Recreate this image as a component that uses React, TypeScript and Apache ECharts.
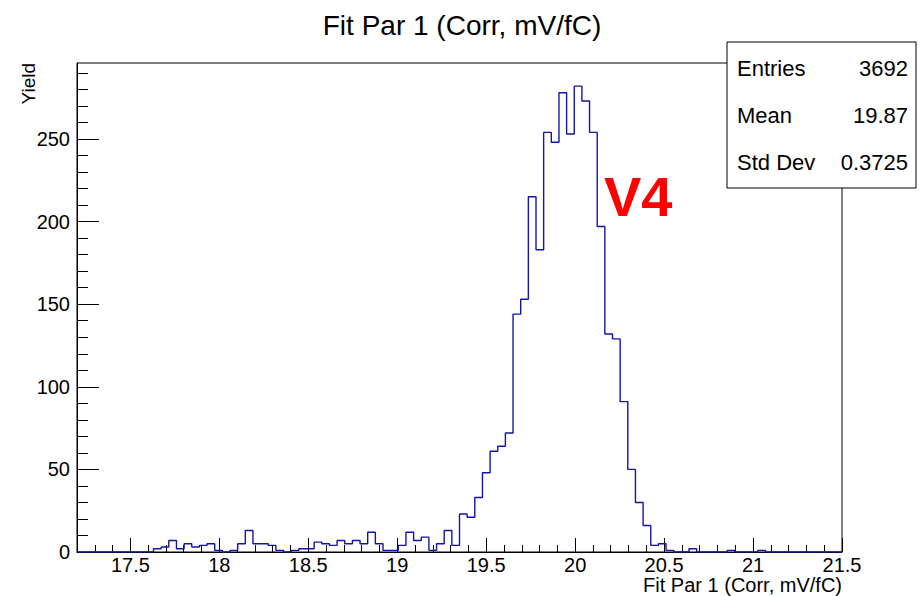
import React, { useEffect, useRef } from 'react';
import * as echarts from 'echarts';

const FONT = '"Liberation Sans", Arial, Helvetica, sans-serif';

// Histogram definition (100 bins from 17.2 to 21.5)
const xMin = 17.2;
const xMax = 21.5;
const binCounts = [
  0, 0, 0, 0, 0, 0, 0, 0, 0, 0,
  2, 3, 7, 2, 5, 3, 4, 5, 1, 0,
  1, 5, 13, 5, 5, 4, 1, 0, 1, 2,
  2, 6, 5, 4, 7, 5, 7, 5, 12, 5,
  1, 1, 4, 12, 7, 9, 1, 5, 13, 4,
  23, 21, 33, 48, 61, 64, 72, 144, 153, 215,
  183, 254, 248, 278, 253, 282, 273, 254, 197, 132,
  129, 91, 50, 30, 16, 4, 5, 1, 0, 0,
  2, 0, 0, 0, 0, 1, 0, 0, 0, 1,
  0, 0, 0, 0, 0, 0, 0, 0, 0, 0,
];

const xTickLabels = [17.5, 18, 18.5, 19, 19.5, 20, 20.5, 21, 21.5];
const yTickLabels = [0, 50, 100, 150, 200, 250];
const yMax = 296;

const chartTitle = 'Fit Par 1 (Corr, mV/fC)';
const xAxisTitle = 'Fit Par 1 (Corr, mV/fC)';
const yAxisTitle = 'Yield';
const annotation = 'V4';

const statsLabels = ['Entries', 'Mean', 'Std Dev'];
const statsValues = ['3692', '19.87', '0.3725'];

export default function App() {
  const ref = useRef<HTMLDivElement>(null);

  useEffect(() => {
    if (!ref.current) return;
    const chart = echarts.init(ref.current, undefined, { renderer: 'svg' });

    const nBins = binCounts.length;
    const binWidth = (xMax - xMin) / nBins;
    const stepData: number[][] = binCounts.map((c, i) => [xMin + i * binWidth, c]);
    stepData.push([xMax, binCounts[nBins - 1]]);

    const boxX = 727, boxY = 42, boxW = 189, boxH = 146;
    const rowY = [68, 115, 162];

    const statsGraphics: any[] = [
      {
        type: 'rect',
        shape: { x: boxX, y: boxY, width: boxW, height: boxH },
        style: { fill: '#fff', stroke: '#000', lineWidth: 1 },
        z: 100,
      },
    ];
    statsLabels.forEach((lab, i) => {
      statsGraphics.push({
        type: 'text', x: boxX + 10, y: rowY[i], z: 101,
        style: { text: lab, fontSize: 22, fontFamily: FONT, fill: '#000', align: 'left', verticalAlign: 'middle' },
      });
      statsGraphics.push({
        type: 'text', x: boxX + boxW - 8, y: rowY[i], z: 101,
        style: { text: statsValues[i], fontSize: 22, fontFamily: FONT, fill: '#000', align: 'right', verticalAlign: 'middle' },
      });
    });

    chart.setOption({
      animation: false,
      backgroundColor: '#fff',
      title: {
        text: chartTitle,
        left: 'center',
        top: 6,
        textStyle: { fontSize: 28, fontWeight: 'normal', fontFamily: FONT, color: '#000' },
      },
      grid: {
        left: 77, right: 82, top: 63, bottom: 44,
        show: true, borderColor: '#000', borderWidth: 1, backgroundColor: 'transparent',
      },
      xAxis: {
        type: 'value',
        min: xMin,
        max: xMax,
        splitNumber: 8,
        axisLine: { show: true, lineStyle: { color: '#000', width: 1 } },
        axisTick: {
          show: true, inside: true, length: 14,
          lineStyle: { color: '#000', width: 1 },
          customValues: xTickLabels,
        },
        minorTick: { show: true, splitNumber: 5, length: 7, lineStyle: { color: '#000', width: 1 } },
        splitLine: { show: false },
        axisLabel: {
          fontSize: 20, fontFamily: FONT, color: '#000', margin: 3,
          customValues: xTickLabels,
          formatter: (v: number) => (xTickLabels.some((t) => Math.abs(t - v) < 1e-6) ? String(v) : ''),
        },
      },
      yAxis: {
        type: 'value',
        min: 0,
        max: yMax,
        interval: 50,
        axisLine: { show: true, lineStyle: { color: '#000', width: 1 } },
        axisTick: {
          show: true, inside: true, length: 22,
          lineStyle: { color: '#000', width: 1 },
          customValues: yTickLabels,
        },
        minorTick: { show: true, splitNumber: 5, length: 11, lineStyle: { color: '#000', width: 1 } },
        splitLine: { show: false },
        axisLabel: {
          fontSize: 20, fontFamily: FONT, color: '#000', margin: 7,
          customValues: yTickLabels,
          formatter: (v: number) => (yTickLabels.includes(v) ? String(v) : ''),
        },
      },
      series: [
        {
          type: 'line',
          step: 'end',
          data: stepData,
          showSymbol: false,
          symbol: 'none',
          lineStyle: { color: '#1414a8', width: 1.4 },
          z: 5,
        },
      ],
      graphic: [
        {
          type: 'text', x: 604, y: 196, z: 50,
          style: { text: annotation, fontSize: 56, fontWeight: 'bold', fontFamily: FONT, fill: '#ff0000', align: 'left', verticalAlign: 'middle' },
        },
        {
          type: 'text', x: 842, y: 585,
          style: { text: xAxisTitle, fontSize: 20, fontFamily: FONT, fill: '#000', align: 'right', verticalAlign: 'middle' },
        },
        {
          type: 'text', x: 28, y: 63, rotation: Math.PI / 2,
          style: { text: yAxisTitle, fontSize: 19, fontFamily: FONT, fill: '#000', align: 'right', verticalAlign: 'middle' },
        },
        ...statsGraphics,
      ],
    });

    return () => chart.dispose();
  }, []);

  return (
    <div
      ref={ref}
      style={{ position: 'fixed', left: 0, top: 0, width: 924, height: 596, background: '#fff' }}
    />
  );
}
